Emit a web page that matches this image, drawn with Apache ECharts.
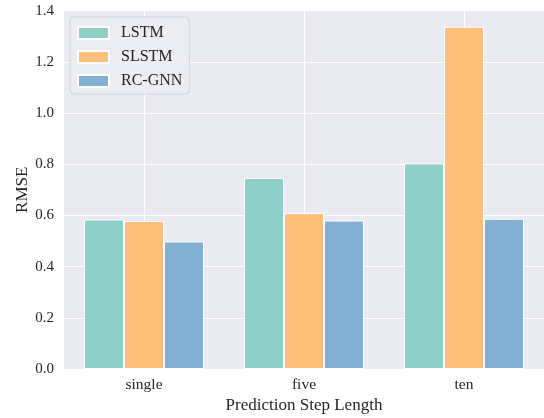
<!DOCTYPE html>
<html><head><meta charset="utf-8">
<script src="https://cdn.jsdelivr.net/npm/echarts@6/dist/echarts.min.js"></script>
<style>html,body{margin:0;padding:0;background:#fff}#c{width:544px;height:418px}</style>
</head><body><div id="c"></div>
<script>
const categories = ['single', 'five', 'ten'];
const seriesNames = ['LSTM', 'SLSTM', 'RC-GNN'];
const lstm = [0.584, 0.746, 0.803];
const slstm = [0.578, 0.609, 1.337];
const rcgnn = [0.498, 0.580, 0.587];
const yTicks = [0, 0.2, 0.4, 0.6, 0.8, 1.0, 1.2, 1.4];
const colors = ['#8ECFC9', '#FFBE7A', '#82B0D2'];
const font = '"Liberation Serif", "Times New Roman", serif';
const values = [lstm, slstm, rcgnn];

// helper axis: half-steps so gridlines fall on category centres
const helperData = [];
categories.forEach(c => { helperData.push(''); helperData.push(c); });
helperData.push('');

const chart = echarts.init(document.getElementById('c'), null, {renderer: 'canvas'});
chart.setOption({
  animation: false,
  backgroundColor: '#ffffff',
  grid: {left: 64, right: 0, top: 10.6, bottom: 49, show: true, backgroundColor: '#EAEAF2', borderWidth: 0,
    containLabel: false, outerBoundsMode: 'none'},
  legend: {
    orient: 'vertical', left: 70, top: 17,
    data: seriesNames,
    itemWidth: 31, itemHeight: 12, itemGap: 8,
    padding: [8, 7, 5, 7],
    backgroundColor: '#ececf3', borderColor: '#d3d3db', borderWidth: 1, borderRadius: 4,
    icon: 'rect',
    formatter: n => '{p|}' + n,
    textStyle: {fontFamily: font, fontSize: 16, color: '#262626',
      rich: {p: {width: 7}}}
  },
  xAxis: [{
    type: 'category', data: categories,
    name: 'Prediction Step Length', nameLocation: 'middle', nameGap: 28, nameMoveOverlap: false,
    nameTextStyle: {fontFamily: font, fontSize: 17, color: '#262626'},
    axisLine: {show: false}, axisTick: {show: false},
    axisLabel: {fontFamily: font, fontSize: 15.5, color: '#262626', margin: 8},
    splitLine: {show: false}
  }, {
    type: 'category', data: helperData, boundaryGap: false, position: 'bottom',
    axisLine: {show: false}, axisTick: {show: false}, axisLabel: {show: false},
    splitLine: {show: true, interval: (i) => i % 2 === 1, lineStyle: {color: '#ffffff', width: 1}}
  }],
  yAxis: {
    type: 'value', min: 0, max: 1.4, interval: 0.2,
    name: 'RMSE', nameLocation: 'middle', nameGap: 33, nameMoveOverlap: false,
    nameTextStyle: {fontFamily: font, fontSize: 17, color: '#262626'},
    axisLine: {show: false}, axisTick: {show: false},
    axisLabel: {fontFamily: font, fontSize: 15, color: '#262626', margin: 10,
      formatter: v => { const t = yTicks.find(x => Math.abs(x - v) < 1e-9); return (t !== undefined ? t : v).toFixed(1); }},
    splitLine: {show: true, lineStyle: {color: '#ffffff', width: 1}}
  },
  series: seriesNames.map((n, i) => ({
    name: n, type: 'bar', data: values[i], xAxisIndex: 0,
    barGap: '0%', barCategoryGap: '25%',
    itemStyle: {color: colors[i], borderColor: '#ffffff', borderWidth: 1}
  }))
});
</script></body></html>
